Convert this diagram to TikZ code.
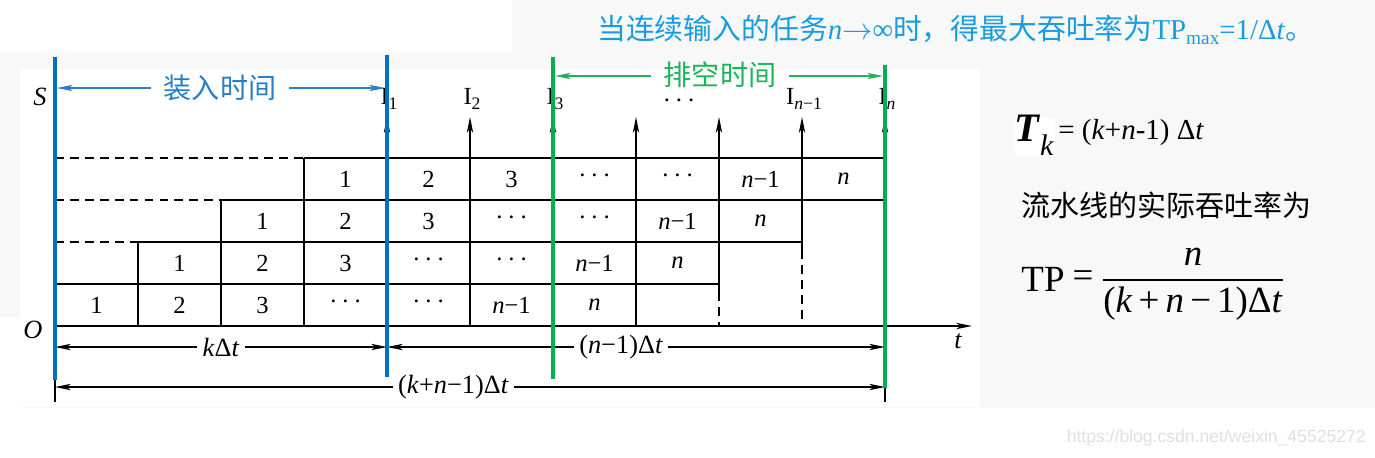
\documentclass[tikz,border=0pt]{standalone}
\usepackage{fontspec}
\setmainfont{Liberation Serif}
\newfontfamily\cjk{Noto Sans CJK SC}
\newfontfamily\wmfont{Liberation Sans}
\usetikzlibrary{arrows.meta}

\definecolor{loadblue}{RGB}{0,112,192}
\definecolor{loadtext}{RGB}{40,125,200}
\definecolor{draingreen}{RGB}{0,176,80}
\definecolor{draintext}{RGB}{30,180,90}
\definecolor{notecyan}{RGB}{25,155,225}
\definecolor{panelgray}{RGB}{248,248,248}

\newcommand{\cellfont}{\fontsize{14}{16}\selectfont}
\newcommand{\dimfont}{\fontsize{15}{17}\selectfont}
\newcommand{\Isub}[1]{I\raisebox{-0.5ex}{\fontsize{10}{10}\selectfont #1}}
\newcommand{\mdots}{·\hspace{0.16em}·\hspace{0.16em}·}

\tikzset{
  grid line/.style={line width=0.8pt},
  half/.style={line width=0.8pt, dash pattern=on 5pt off 3.5pt},
  dim line/.style={line width=0.6pt},
  stage/.style={font=\cellfont, inner sep=0pt},
  dimlabel/.style={font=\dimfont, fill=white, inner sep=3pt},
  loadline/.style={loadblue, line width=2.3pt},
  drainline/.style={draingreen, line width=2.3pt},
  cjklabel/.style={font=\cjk\fontsize{16}{18}\selectfont, inner xsep=7pt, inner ysep=0pt}
}

\begin{document}
\begin{tikzpicture}[x=0.02cm, y=-0.02cm,
  >={Stealth[length=9pt,width=3.6pt,inset=2.5pt]}]

\useasboundingbox (0,0) rectangle (1375,457);

% ---------- background patches ----------
\fill[panelgray] (0,0) rectangle (1375,408);
\fill[white] (0,0) rectangle (512,52);
\fill[white] (20,70) rectangle (980,407);
\fill[white] (0,317) rectangle (20,408);
\fill[white] (0,408) rectangle (1375,457);
\fill[white] (1015,118) rectangle (1055,156);

% ---------- space-time grid ----------
\foreach \j in {0,...,3} {
  \pgfmathsetmacro{\yb}{326-42*\j}
  \pgfmathsetmacro{\yt}{\yb-42}
  \pgfmathtruncatemacro{\cend}{min(\j+8,10)}
  \draw[grid line] ({55+83*\j},\yt) -- ({55+83*\cend},\yt);
  \foreach \i in {0,...,7}
    \draw[grid line] ({55+83*(\j+\i)},\yb) -- ++(0,-42);
  \foreach \i/\lab in {0/1,1/2,2/3,3/\mdots,4/\mdots,5/\textit{n}−1,6/\textit{n}}
    \node[stage] (c\j\i) at ({96.5+83*(\j+\i)},{\yb-21}) {\lab};
}
\foreach \j in {1,2,3}
  \draw[half] (55,{284-42*\j}) -- ({55+83*\j},{284-42*\j});
\draw[grid line] (719,284) -- (719,292);
\draw[half] (719,292) -- (719,326);
\draw[grid line] (802,242) -- (802,250);
\draw[half] (802,250) -- (802,326);

% time axis
\draw[grid line,->] (55,326) -- (972,326);
\node[font=\fontsize{15}{16}\selectfont\itshape] (tlab) at (958,341) {t};
\node[font=\fontsize{15}{16}\selectfont\itshape] (S) at (40,97) {S};
\node[font=\fontsize{15}{16}\selectfont\itshape] (O) at (33,330) {O};

% outputs
\foreach \c in {4,...,10}
  \draw[grid line,->] ({55+83*\c},158) -- ({55+83*\c},117);
\foreach \c/\lab in {4/1,5/2,6/3,9/\textit{n}−1,10/\textit{n}}
  \node[stage] (out\c) at ({57+83*\c},99) {\Isub{\lab}};
\node[stage] (outdots) at (679,104) {\mdots};

% ---------- dimensions ----------
\draw[dim line] (55,326) -- (55,402);
\draw[dim line] (885,326) -- (885,402);
\coordinate (k0) at (55,347);
\coordinate (k4) at (387,347);
\coordinate (k10) at (885,347);
\coordinate (a0) at (55,387);
\coordinate (a10) at (885,387);
\draw[dim line,<->] (k0) -- node[dimlabel] (klab) {\textit{k}Δ\textit{t}} (k4);
\draw[dim line,<->] (k4) -- node[dimlabel, pos=0.47] (nlab) {(\textit{n}−1)Δ\textit{t}} (k10);
\draw[dim line,<->] (a0) -- node[dimlabel, pos=0.48] (alab) {(\textit{k}+\textit{n}−1)Δ\textit{t}} (a10);

% ---------- fill and drain phases ----------
\draw[loadline] (55,57) -- (55,380);
\draw[loadline] (387,55) -- (387,377);
\draw[drainline] (553,57) -- (553,379);
\draw[drainline] (885,65) -- (885,388);

\node[cjklabel, text=loadtext] (load) at (220,88) {装入时间};
\coordinate (loadL) at (57,88);
\coordinate (loadR) at (385,88);
\draw[loadtext, dim line, ->] (load.west) -- (loadL);
\draw[loadtext, dim line, ->] (load.east) -- (loadR);

\node[cjklabel, text=draintext] (drain) at (720,75) {排空时间};
\coordinate (drainL) at (555,76);
\coordinate (drainR) at (883,76);
\draw[draintext, dim line, ->] (drain.west |- drainL) -- (drainL);
\draw[draintext, dim line, ->] (drain.east |- drainR) -- (drainR);

% ---------- notes ----------
\node[anchor=west, text=notecyan, font=\fontsize{16.4}{18}\selectfont, inner sep=0pt] (note) at (597,30)
  {{\cjk 当连续输入的任务}\textit{n}$\to$∞{\cjk 时，得最大吞吐率为}TP\raisebox{-0.4ex}{\fontsize{11}{11}\selectfont max}=1/Δ\textit{t}{\cjk 。}};

\node[inner sep=0pt] (Tk) at (1034,135)
  {\fontsize{23}{23}\selectfont\textbf{\textit{T}}\raisebox{-0.75ex}{\fontsize{17}{17}\selectfont\textit{k}}};
\node[anchor=west, inner sep=0pt, font=\fontsize{16.5}{18}\selectfont] (Tkeq) at (1058,133)
  {= (\textit{k}+\textit{n}-1) Δ\textit{t}};
\node[anchor=west, inner sep=0pt, font=\cjk\fontsize{16.5}{18}\selectfont] (rate) at (1021,205)
  {流水线的实际吞吐率为};

\node[inner sep=0pt, font=\fontsize{21}{22}\selectfont] (tp) at (1043,279) {TP};
\node[inner sep=0pt, font=\fontsize{21}{22}\selectfont] (eq) at (1083,279) {=};
\node[inner sep=0pt, font=\fontsize{21}{22}\selectfont] (num) at (1193,257) {\textit{n}};
\node[inner sep=0pt, font=\fontsize{21}{22}\selectfont] (den) at (1193,304)
  {(\textit{k}\,+\,\textit{n}\,−\,1)Δ\textit{t}};
\coordinate (barL) at (1103,280);
\coordinate (barR) at (1283,280);
\draw[line width=0.8pt] (barL) -- (barR);

\node[anchor=east, inner sep=0pt, text=black!12, font=\wmfont\fontsize{10}{11}\selectfont] (wm) at (1366,438)
  {https://blog.csdn.net/weixin\_45525272};

\end{tikzpicture}
\end{document}
